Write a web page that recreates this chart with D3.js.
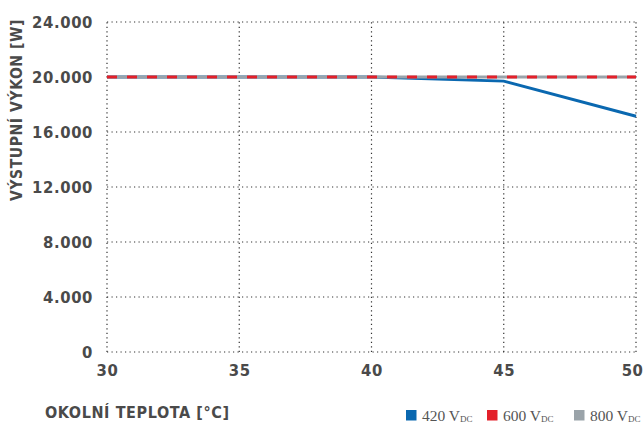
<!DOCTYPE html>
<html><head><meta charset="utf-8">
<script src="https://cdn.jsdelivr.net/npm/d3@7"></script>
<style>body{margin:0;background:#fff}</style>
</head><body>
<svg id="c" width="644" height="423"></svg>
<script>
const temps = [30, 35, 40, 45, 50];
const v420 = [20000, 20000, 20000, 19700, 17150];
const v600 = [20000, 20000, 20000, 20000, 20000];
const v800 = [20000, 20000, 20000, 20000, 20000];
const yTicks = [0, 4000, 8000, 12000, 16000, 20000, 24000];
const xTicks = [30, 35, 40, 45, 50];
const seriesNames = ["420 V", "600 V", "800 V"];
const seriesSub = "DC";
const colors = ["#0a68b0", "#e3202a", "#9aa3a9"];

const svg = d3.select("#c");
const x = d3.scaleLinear().domain([30, 50]).range([107, 636]);
const y = d3.scaleLinear().domain([0, 24000]).range([352, 22]);
const font = "'DejaVu Sans Condensed','DejaVu Sans',sans-serif";
const txt = "#4a4a4a";

// grid
const g = svg.append("g");
g.selectAll(".h").data(yTicks).join("line")
  .attr("x1", x(30)).attr("x2", x(50)).attr("y1", d => y(d)).attr("y2", d => y(d))
  .attr("stroke", "#333").attr("stroke-width", 1.2).attr("stroke-dasharray", "1.2,3.3");
g.selectAll(".v").data(xTicks).join("line")
  .attr("y1", y(0)).attr("y2", y(24000)).attr("x1", d => x(d)).attr("x2", d => x(d))
  .attr("stroke", "#333").attr("stroke-width", 1.2).attr("stroke-dasharray", "1.2,3.3");

const fmt = d => d === 0 ? "0" : d3.format(",")(d).replace(",", ".");
const ya = svg.append("g").attr("transform", `translate(${x(30) - 14},0)`)
  .call(d3.axisLeft(y).tickValues(yTicks).tickFormat(fmt).tickSize(0).tickPadding(0));
ya.select(".domain").remove();
ya.selectAll("text").attr("font-family", font).attr("font-weight", "bold")
  .attr("font-size", 16.5).attr("fill", txt).attr("dy", "0.36em").attr("letter-spacing", 0.6);

const xa = svg.append("g").attr("transform", `translate(0,${y(0) + 12})`)
  .call(d3.axisBottom(x).tickValues(xTicks).tickFormat(d3.format("d")).tickSize(0).tickPadding(0));
xa.select(".domain").remove();
xa.selectAll("text").attr("font-family", font).attr("font-weight", "bold")
  .attr("font-size", 16.5).attr("fill", txt).attr("letter-spacing", 0.6);
xa.selectAll(".tick").filter(d => d === 50).select("text")
  .attr("text-anchor", "end").attr("x", 643 - x(50));

svg.append("text").attr("transform", "translate(22,110) rotate(-90)")
  .attr("text-anchor", "middle").attr("font-family", font).attr("font-weight", "bold")
  .attr("font-size", 15.5).attr("fill", txt).attr("letter-spacing", 0.6).text("VÝSTUPNÍ VÝKON [W]");
svg.append("text").attr("x", 45).attr("y", 418)
  .attr("font-family", font).attr("font-weight", "bold")
  .attr("font-size", 16).attr("fill", txt).attr("letter-spacing", 0.6).text("OKOLNÍ TEPLOTA [°C]");

const line = d3.line().x((d, i) => x(temps[i])).y(d => y(d));
svg.append("path").datum(v420).attr("d", line).attr("fill", "none")
  .attr("stroke", colors[0]).attr("stroke-width", 3);
svg.append("path").datum(v800).attr("d", line).attr("fill", "none")
  .attr("stroke", colors[2]).attr("stroke-width", 3);
svg.append("path").datum(v600).attr("d", line).attr("fill", "none")
  .attr("stroke", colors[1]).attr("stroke-width", 3).attr("stroke-dasharray", "10,10");

const legX = [406, 487, 574];
const lg = svg.append("g");
seriesNames.forEach((n, i) => {
  lg.append("rect").attr("x", legX[i]).attr("y", 410).attr("width", 10.5).attr("height", 10.5).attr("fill", colors[i]);
  const t = lg.append("text").attr("x", legX[i] + 16).attr("y", 421)
    .attr("font-family", "'Liberation Serif',serif").attr("font-size", 15.5).attr("fill", "#555");
  t.append("tspan").text(n);
  t.append("tspan").attr("font-size", 9).attr("dy", 1).text(seriesSub);
});
</script>
</body></html>
